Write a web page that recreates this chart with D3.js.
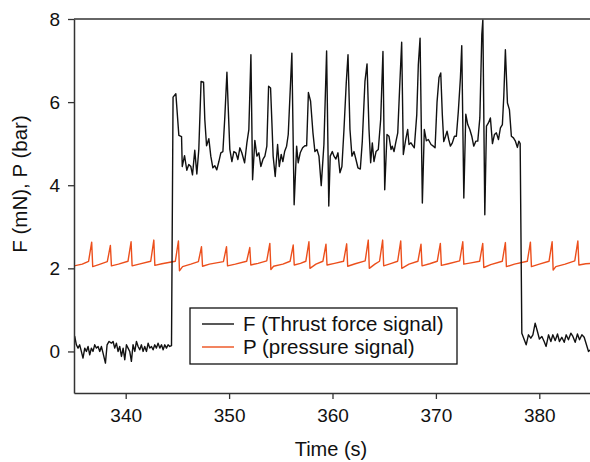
<!DOCTYPE html>
<html>
<head>
<meta charset="utf-8">
<script src="https://cdn.jsdelivr.net/npm/d3@7"></script>
<style>
  body { margin: 0; background: #fff; }
  text { font-family: "Liberation Sans", Arial, sans-serif; fill: #111; }
</style>
</head>
<body>
<div id="chart"></div>
<script>
// Thrust force signal F (mN): [time (s), value]
const forceSignal = [
  [335.0, 0.38], [335.07, 0.36], [335.23, 0.16], [335.39, 0.08], [335.55, 0.16], [335.71, 0.0],
  [335.87, -0.16], [336.04, 0.08], [336.2, 0.0], [336.36, 0.12], [336.52, -0.08], [336.68, 0.08],
  [336.84, 0.0], [337.0, 0.16], [337.17, 0.08], [337.33, 0.12], [337.49, 0.0], [337.65, 0.12],
  [337.81, -0.04], [338.04, -0.28], [338.2, 0.16], [338.39, 0.24], [338.62, 0.2], [338.78, 0.24],
  [338.94, 0.08], [339.1, 0.2], [339.26, 0.0], [339.42, 0.12], [339.59, -0.12], [339.75, 0.08],
  [339.91, -0.2], [340.07, 0.16], [340.23, 0.08], [340.39, 0.0], [340.55, -0.24], [340.71, 0.16],
  [340.88, 0.0], [341.04, 0.24], [341.2, 0.12], [341.36, 0.04], [341.52, 0.16], [341.68, 0.0],
  [341.84, 0.12], [342.01, 0.0], [342.17, 0.2], [342.33, 0.08], [342.49, 0.12], [342.65, 0.04],
  [342.81, 0.16], [342.97, 0.08], [343.13, 0.2], [343.3, 0.08], [343.46, 0.16], [343.62, 0.04],
  [343.78, 0.16], [343.94, 0.08], [344.1, 0.16], [344.26, 0.12], [344.43, 0.14],
  [344.58, 6.12], [344.85, 6.2], [345.14, 5.2], [345.4, 5.17], [345.47, 4.45], [345.69, 4.71],
  [345.91, 4.36], [346.1, 4.5], [346.3, 4.45], [346.46, 4.25], [346.68, 4.84], [346.88, 4.27],
  [347.07, 4.86], [347.29, 6.5], [347.53, 6.48], [347.65, 5.58], [347.82, 4.95], [348.04, 5.12],
  [348.23, 4.7], [348.43, 4.42], [348.62, 4.47], [348.81, 4.37], [349.01, 4.57], [349.2, 4.78],
  [349.4, 4.81], [349.59, 5.66], [349.79, 6.72], [349.91, 5.9], [350.07, 4.86], [350.27, 4.57],
  [350.46, 4.81], [350.66, 4.78], [350.85, 4.62], [351.04, 4.9], [351.23, 4.78], [351.5, 4.54],
  [351.72, 5.02], [351.91, 5.34], [352.11, 7.14], [352.27, 4.13], [352.49, 5.08], [352.69, 4.7],
  [352.88, 4.78], [353.07, 4.45], [353.27, 4.62], [353.46, 4.7], [353.65, 4.94], [353.82, 6.38],
  [354.01, 6.34], [354.14, 5.5], [354.26, 4.7], [354.46, 4.21], [354.69, 4.98], [354.85, 4.45],
  [355.04, 4.74], [355.2, 4.57], [355.37, 4.81], [355.56, 4.94], [355.72, 5.22], [356.07, 7.18],
  [356.29, 3.53], [356.53, 4.94], [356.68, 4.54], [356.88, 4.78], [357.11, 4.9], [357.33, 4.95],
  [357.5, 4.95], [357.67, 6.23], [357.88, 6.02], [358.11, 5.26], [358.3, 4.81], [358.5, 4.86],
  [358.69, 4.7], [358.91, 3.99], [359.17, 4.98], [359.43, 7.23], [359.64, 3.5], [359.78, 4.7],
  [359.98, 4.81], [360.14, 4.7], [360.33, 4.63], [360.53, 4.78], [360.72, 4.3], [360.91, 4.45],
  [361.11, 5.34], [361.33, 6.46], [361.5, 7.14], [361.69, 5.34], [361.88, 4.7], [362.08, 4.81],
  [362.27, 4.62], [362.46, 4.42], [362.69, 4.39], [362.88, 5.05], [363.14, 6.5], [363.34, 6.92],
  [363.53, 5.34], [363.69, 4.54], [363.85, 5.02], [364.01, 4.57], [364.21, 4.81], [364.43, 4.86],
  [364.66, 5.58], [364.88, 7.22], [365.05, 3.89], [365.27, 5.22], [365.46, 5.18], [365.66, 4.86],
  [365.78, 4.94], [365.95, 4.81], [366.11, 5.02], [366.31, 5.26], [366.5, 6.38], [366.69, 7.44],
  [366.85, 4.74], [367.08, 5.1], [367.27, 5.34], [367.4, 4.98], [367.59, 5.02], [367.79, 4.94],
  [367.91, 4.9], [368.15, 5.7], [368.3, 6.9], [368.47, 7.54], [368.69, 3.57], [368.88, 5.34],
  [369.08, 5.07], [369.27, 5.1], [369.53, 4.98], [369.75, 4.94], [369.92, 4.9], [370.11, 6.0],
  [370.3, 6.59], [370.47, 6.7], [370.62, 5.7], [370.76, 5.05], [370.91, 5.16], [371.08, 5.3],
  [371.24, 5.1], [371.4, 4.94], [371.59, 5.02], [371.79, 5.18], [371.98, 5.18], [372.17, 5.78],
  [372.37, 6.58], [372.5, 7.36], [372.7, 3.69], [372.89, 5.71], [373.08, 5.46], [373.28, 5.34],
  [373.47, 5.18], [373.66, 4.94], [373.86, 5.06], [374.05, 5.06], [374.25, 5.62], [374.44, 7.62],
  [374.54, 7.98], [374.73, 3.29], [374.89, 5.42], [375.08, 5.5], [375.27, 5.62], [375.47, 5.0],
  [375.66, 5.22], [375.85, 5.26], [376.05, 5.1], [376.24, 5.38], [376.43, 5.46], [376.57, 6.16],
  [376.72, 7.26], [376.92, 5.98], [377.11, 5.82], [377.3, 5.18], [377.5, 5.14], [377.69, 5.06],
  [377.88, 4.91], [378.02, 5.06], [378.15, 5.0],
  [378.31, 0.44], [378.73, 0.16], [378.95, 0.4], [379.18, 0.32], [379.38, 0.4], [379.6, 0.68],
  [379.82, 0.48], [380.01, 0.3], [380.25, 0.36], [380.47, 0.24], [380.66, 0.12], [380.89, 0.4],
  [381.12, 0.24], [381.31, 0.4], [381.54, 0.26], [381.76, 0.42], [381.95, 0.24], [382.18, 0.34],
  [382.41, 0.22], [382.6, 0.4], [382.82, 0.28], [383.05, 0.44], [383.25, 0.36], [383.47, 0.22],
  [383.69, 0.42], [383.89, 0.28], [384.12, 0.4], [384.34, 0.34], [384.54, 0.18], [384.76, 0.0],
  [385.0, 0.05]
];

// Pressure signal P (bar): [time (s), value]
const pressureSignal = [
  [335.0, 2.06], [335.8, 2.1],
  [336.41, 2.17], [336.71, 2.63], [336.81, 2.04], [337.4, 2.09],
  [338.22, 2.16], [338.52, 2.55], [338.62, 2.06], [339.3, 2.1],
  [340.22, 2.17], [340.52, 2.64], [340.62, 2.06], [341.3, 2.1],
  [342.42, 2.17], [342.72, 2.68], [342.82, 2.07], [343.5, 2.11],
  [344.8, 2.17], [345.1, 2.66], [345.2, 1.94], [345.5, 2.04], [346.3, 2.1],
  [347.03, 2.16], [347.33, 2.52], [347.43, 2.05], [348.1, 2.1],
  [349.45, 2.16], [349.75, 2.52], [349.85, 2.06], [350.6, 2.1],
  [351.7, 2.17], [352.0, 2.5], [352.1, 2.08], [352.8, 2.12],
  [353.64, 2.18], [353.94, 2.6], [354.04, 1.97], [354.3, 2.05], [355.2, 2.1],
  [355.9, 2.17], [356.2, 2.56], [356.3, 2.08], [356.9, 2.12],
  [357.42, 2.17], [357.72, 2.64], [357.82, 2.0], [358.4, 2.1],
  [359.07, 2.17], [359.37, 2.58], [359.47, 2.08], [360.2, 2.12],
  [361.07, 2.17], [361.37, 2.59], [361.47, 2.05], [362.2, 2.11],
  [363.16, 2.18], [363.46, 2.68], [363.56, 2.0], [364.1, 2.1],
  [364.55, 2.17], [364.85, 2.68], [364.95, 2.06], [365.7, 2.12],
  [366.3, 2.17], [366.6, 2.66], [366.7, 2.0], [367.4, 2.1],
  [368.26, 2.17], [368.56, 2.58], [368.66, 2.06], [369.4, 2.11],
  [370.13, 2.17], [370.43, 2.6], [370.53, 2.07], [371.2, 2.11],
  [372.3, 2.18], [372.6, 2.64], [372.7, 2.1], [373.4, 2.13],
  [374.23, 2.17], [374.53, 2.6], [374.63, 2.02], [375.3, 2.09],
  [376.42, 2.17], [376.72, 2.62], [376.82, 2.04], [377.6, 2.1],
  [378.84, 2.17], [379.14, 2.63], [379.24, 2.04], [380.0, 2.1],
  [380.94, 2.17], [381.24, 2.64], [381.34, 1.96], [381.6, 2.04], [382.5, 2.1],
  [383.43, 2.18], [383.73, 2.66], [383.83, 2.08], [384.5, 2.11], [385.0, 2.12]
];

const xTicks = [340, 350, 360, 370, 380];
const yTicks = [0, 2, 4, 6, 8];
const seriesNames = ['F (Thrust force signal)', 'P (pressure signal)'];
const seriesColors = ['#111111', '#ec4f1c'];

const width = 590, height = 462;
const margin = { top: 19, right: -1, bottom: 69, left: 74 };

const svg = d3.select('#chart')
    .append('svg')
    .attr('width', width)
    .attr('height', height);

const xScale = d3.scaleLinear()
    .domain([335, 385])
    .range([margin.left, width - margin.right]);

const yScale = d3.scaleLinear()
    .domain([-1, 8])
    .range([height - margin.bottom, margin.top]);

// clip for the traces
svg.append('defs')
    .append('clipPath')
    .attr('id', 'clip')
    .append('rect')
    .attr('x', margin.left)
    .attr('y', margin.top)
    .attr('width', width - margin.left - margin.right)
    .attr('height', height - margin.top - margin.bottom);

const line = d3.line()
    .x(d => xScale(d[0]))
    .y(d => yScale(d[1]));

const main = svg.append('g').attr('clip-path', 'url(#clip)');

main.append('path')
    .datum(pressureSignal)
    .attr('fill', 'none')
    .attr('stroke', seriesColors[1])
    .attr('stroke-width', 1.4)
    .attr('stroke-linejoin', 'round')
    .attr('d', line);

main.append('path')
    .datum(forceSignal)
    .attr('fill', 'none')
    .attr('stroke', seriesColors[0])
    .attr('stroke-width', 1.4)
    .attr('stroke-linejoin', 'round')
    .attr('d', line);

// top frame line
svg.append('line')
    .attr('x1', margin.left)
    .attr('x2', width)
    .attr('y1', yScale(8))
    .attr('y2', yScale(8))
    .attr('stroke', '#333')
    .attr('stroke-width', 1.5);

// axes
const xAxis = d3.axisBottom(xScale)
    .tickValues(xTicks)
    .tickSize(6)
    .tickPadding(10)
    .tickSizeOuter(0);

const gX = svg.append('g')
    .attr('transform', `translate(0, ${height - margin.bottom})`)
    .call(xAxis);

const yAxis = d3.axisLeft(yScale)
    .tickValues(yTicks)
    .tickSize(6)
    .tickPadding(8)
    .tickSizeOuter(0);

const gY = svg.append('g')
    .attr('transform', `translate(${margin.left}, 0)`)
    .call(yAxis);

[gX, gY].forEach(g => {
    g.select('.domain').attr('stroke', '#333').attr('stroke-width', 1.5);
    g.selectAll('.tick line').attr('stroke', '#333').attr('stroke-width', 1.3);
    g.selectAll('.tick text')
        .style('font-family', '"Liberation Sans", Arial, sans-serif')
        .style('font-size', '19px')
        .attr('fill', '#111');
});

// axis titles
svg.append('text')
    .attr('x', 331)
    .attr('y', 456)
    .attr('text-anchor', 'middle')
    .style('font-size', '20px')
    .text('Time (s)');

svg.append('text')
    .attr('transform', 'translate(27, 184) rotate(-90)')
    .attr('text-anchor', 'middle')
    .style('font-size', '20.5px')
    .text('F (mN), P (bar)');

// legend
const legend = svg.append('g').attr('transform', 'translate(190, 308)');

legend.append('rect')
    .attr('width', 267)
    .attr('height', 56)
    .attr('fill', '#fff')
    .attr('stroke', '#111')
    .attr('stroke-width', 1.3);

seriesNames.forEach((name, i) => {
    const yy = 16 + i * 23;
    legend.append('line')
        .attr('x1', 12)
        .attr('x2', 44)
        .attr('y1', yy)
        .attr('y2', yy)
        .attr('stroke', seriesColors[i])
        .attr('stroke-width', 1.4);
    legend.append('text')
        .attr('x', 53)
        .attr('y', yy)
        .attr('dy', '0.35em')
        .style('font-size', '20.5px')
        .text(name);
});
</script>
</body>
</html>
